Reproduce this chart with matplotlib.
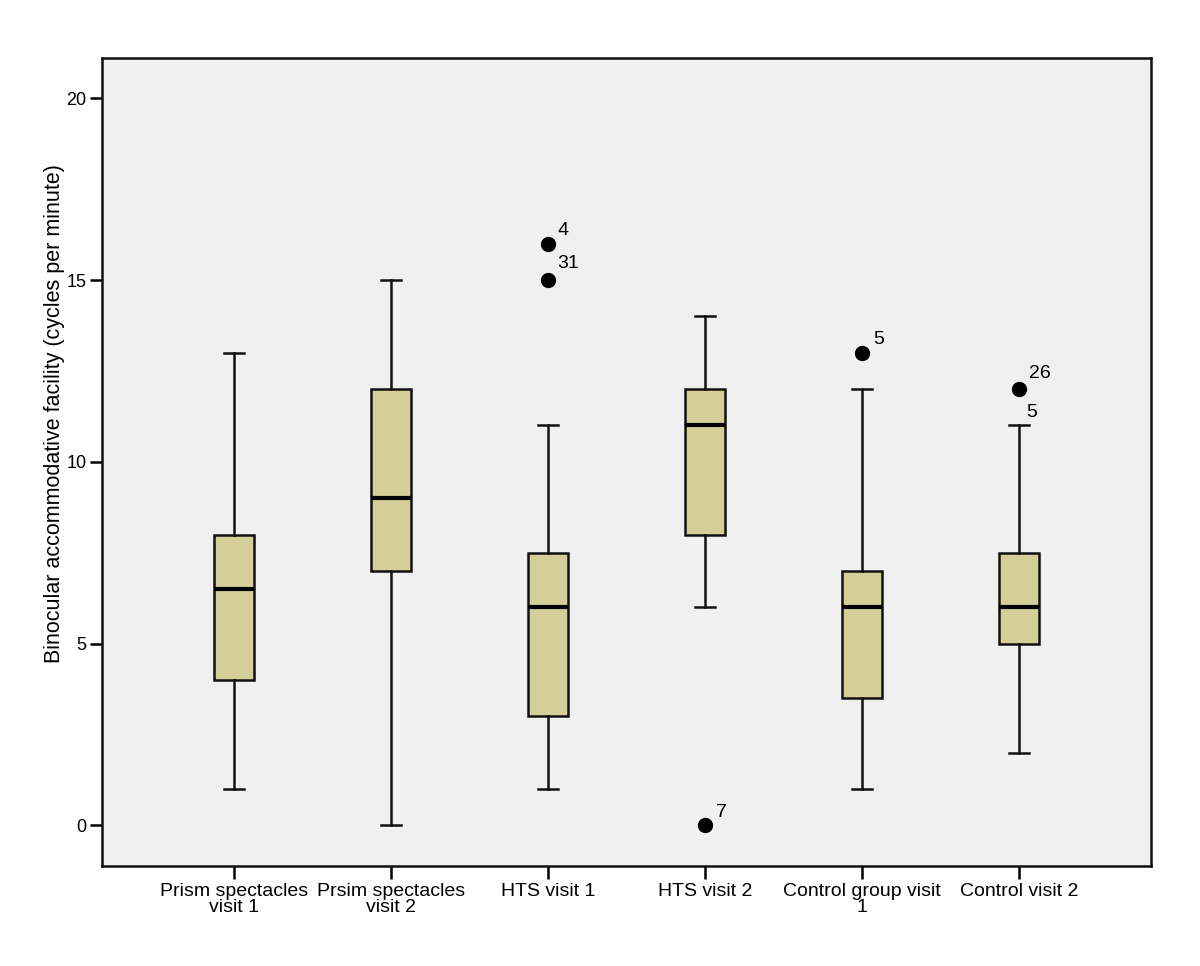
import matplotlib
matplotlib.use("Agg")
import matplotlib.pyplot as plt

categories = ["Prism spectacles\nvisit 1", "Prsim spectacles\nvisit 2", "HTS visit 1",
              "HTS visit 2", "Control group visit\n1", "Control visit 2"]
whislo = [1, 0, 1, 6, 1, 2]
q1 = [4, 7, 3, 8, 3.5, 5]
med = [6.5, 9, 6, 11, 6, 6]
q3 = [8, 12, 7.5, 12, 7, 7.5]
whishi = [13, 15, 11, 14, 12, 11]
outliers = [[], [], [16, 15], [0], [13], [12]]
outlier_labels = [[], [], ["4", "31"], ["7"], ["5"], ["26", "5"]]
yticks = [0, 5, 10, 15, 20]
ylabel = "Binocular accommodative facility (cycles per minute)"

plt.rcParams['font.family'] = ['Liberation Sans', 'DejaVu Sans']

fig = plt.figure(figsize=(12, 9.66), dpi=100)
ax = fig.add_axes([0.0848, 0.1035, 0.959 - 0.0848, 0.94 - 0.1035])
ax.set_facecolor('#F0F0F0')

stats = []
for i in range(len(categories)):
    stats.append(dict(whislo=whislo[i], q1=q1[i], med=med[i], q3=q3[i],
                      whishi=whishi[i], fliers=outliers[i], label=categories[i]))

pos = list(range(len(categories)))
ax.bxp(stats, positions=pos, widths=0.255, patch_artist=True, showfliers=True,
       boxprops=dict(facecolor='#D4CF98', edgecolor='#111111', linewidth=1.8),
       medianprops=dict(color='black', linewidth=3),
       whiskerprops=dict(color='#111111', linewidth=1.8),
       capprops=dict(color='#111111', linewidth=1.8),
       flierprops=dict(marker='o', markerfacecolor='black', markeredgecolor='black',
                       markersize=10))

# outlier case labels
offsets = {
    (2, 0): (7, 6), (2, 1): (7, 9),
    (3, 0): (8, 6),
    (4, 0): (8, 6),
    (5, 0): (7, 8), (5, 1): (5, -20),
}
for i, labs in enumerate(outlier_labels):
    for j, lab in enumerate(labs):
        val = outliers[i][0] if i == 5 else outliers[i][j]
        ax.annotate(lab, xy=(pos[i], val), xytext=offsets[(i, j)],
                    textcoords='offset points', fontsize=14, va='baseline', ha='left')

ax.set_xlim(-0.84, 5.84)
ax.set_ylim(-1.12, 21.11)
ax.set_yticks(yticks)
ax.set_xticks(pos)
ax.set_xticklabels(categories, fontsize=14, linespacing=0.98)
ax.tick_params(axis='y', labelsize=13, length=9, width=1.8, direction='out', pad=2)
ax.tick_params(axis='x', length=9, width=1.8, direction='out', pad=3)
fig.text(55 / 1200, 1 - 414 / 966, ylabel, rotation=90, ha='center', va='center',
         fontsize=15.5)
for s in ax.spines.values():
    s.set_linewidth(1.8)
    s.set_color('#111111')

fig.savefig("out.png", dpi=100)
